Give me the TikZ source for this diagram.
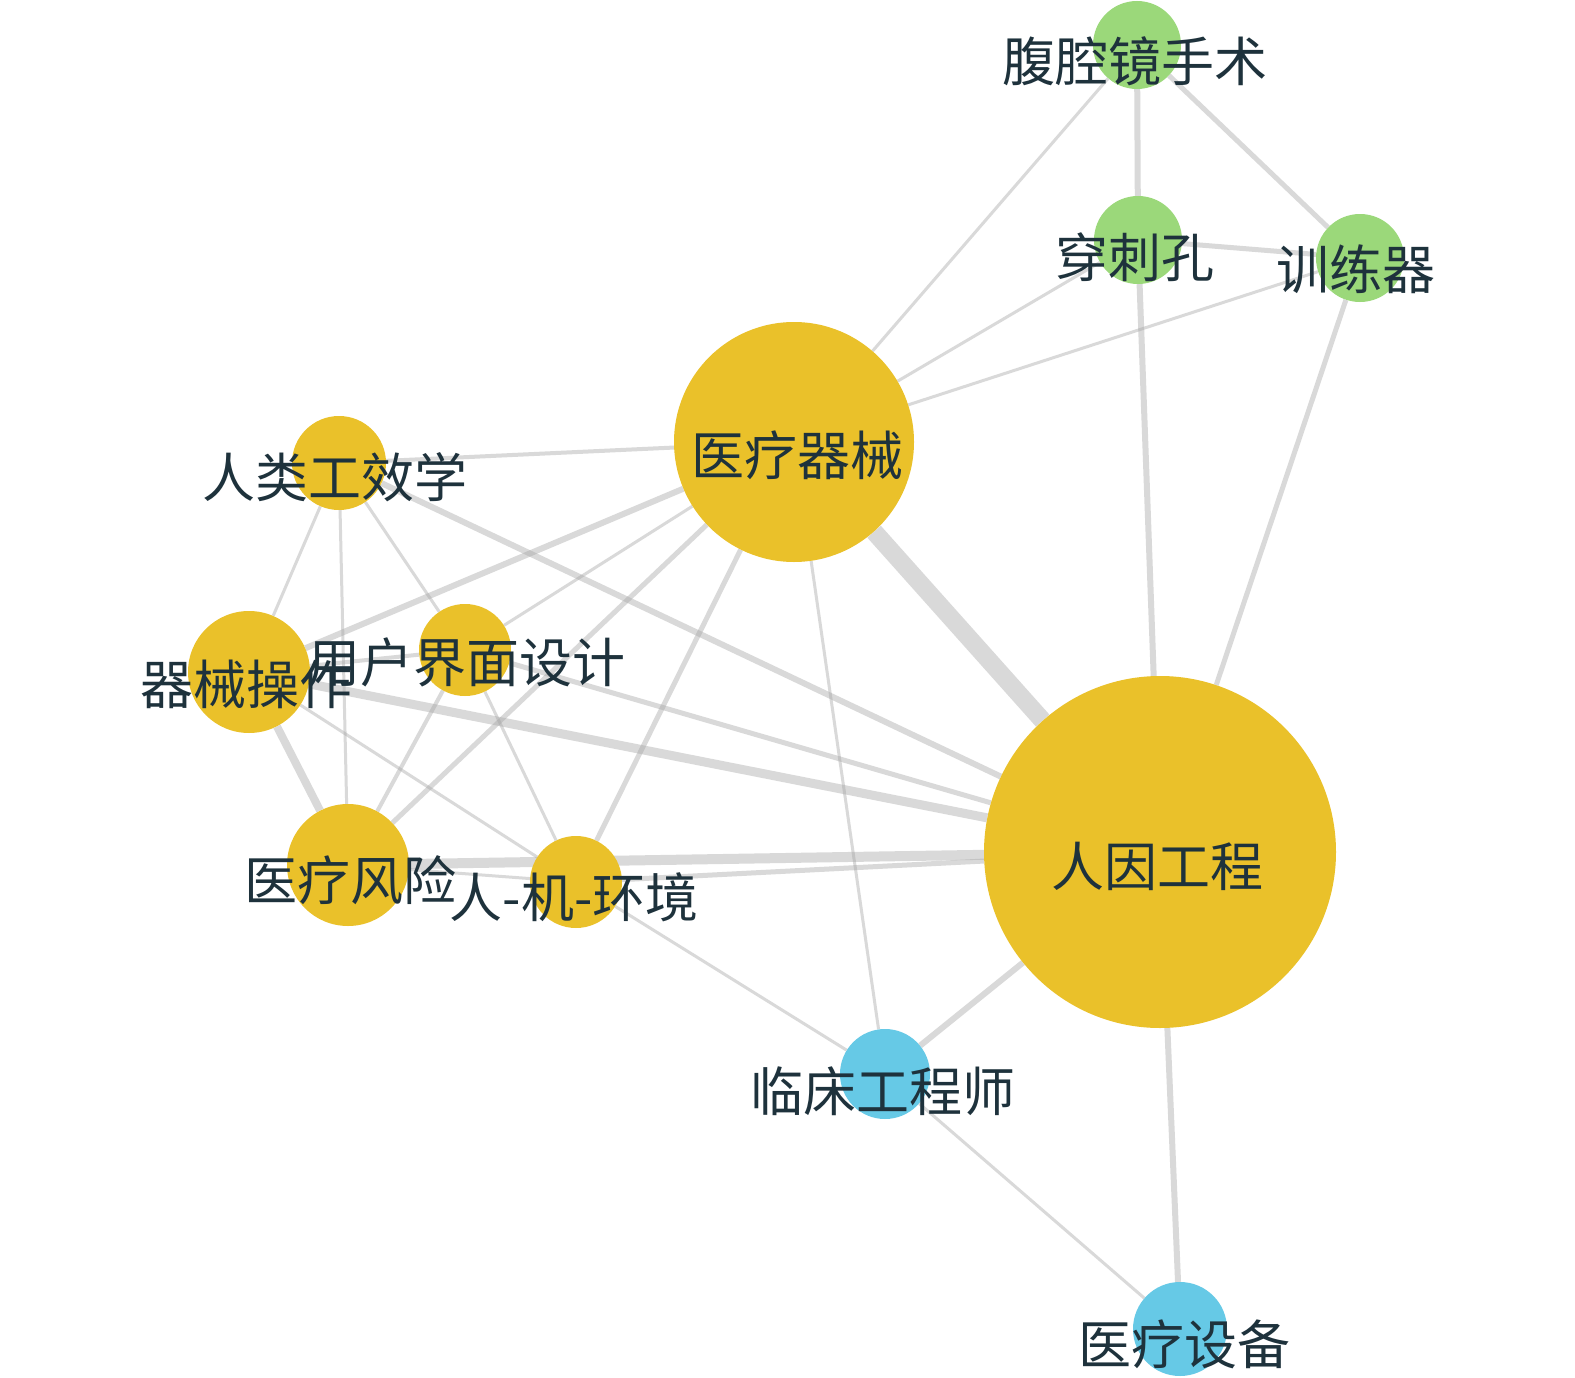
\documentclass[tikz,border=0pt]{standalone}
\usepackage{fontspec}
\newfontfamily\cjk{Noto Sans CJK SC}
\pgfdeclarelayer{bg}
\pgfsetlayers{bg,main}
\definecolor{yel}{RGB}{234,193,42}
\definecolor{grn}{RGB}{155,216,122}
\definecolor{blu}{RGB}{102,201,230}
\definecolor{txt}{RGB}{30,50,60}
\definecolor{edgec}{RGB}{165,165,165}
\begin{document}
\begin{tikzpicture}[x=1pt,y=-1pt,
  vtx/.style={circle,inner sep=0pt,draw=none,minimum size=#1},
  lbl/.style={anchor=base,inner sep=0pt,text=txt,font=\cjk\fontsize{53}{60}\selectfont},
  lnk/.style={draw=edgec,draw opacity=0.42,line width=#1},
  lnk/.default=3pt]
\useasboundingbox (0,0) rectangle (1575,1378);

% circles
\node[vtx=88pt,fill=grn]  (A) at (1137,45)  {};
\node[vtx=88pt,fill=grn]  (B) at (1138,240) {};
\node[vtx=88pt,fill=grn]  (C) at (1360,258) {};
\node[vtx=240pt,fill=yel] (D) at (794,442)  {};
\node[vtx=94pt,fill=yel]  (E) at (339,463)  {};
\node[vtx=122pt,fill=yel] (F) at (249,672)  {};
\node[vtx=92pt,fill=yel]  (G) at (465,650)  {};
\node[vtx=122pt,fill=yel] (H) at (348,865)  {};
\node[vtx=92pt,fill=yel]  (I) at (576,882)  {};
\node[vtx=352pt,fill=yel] (J) at (1160,852) {};
\node[vtx=90pt,fill=blu]  (K) at (885,1074) {};
\node[vtx=94pt,fill=blu]  (L) at (1180,1329) {};

% edges
\begin{pgfonlayer}{bg}
\fill[white] (0,0) rectangle (1575,1378);
\draw[lnk=6pt] (A) -- (B);
\draw[lnk=5pt] (A) -- (C);
\draw[lnk=3pt] (A) -- (D);
\draw[lnk=5pt] (B) -- (C);
\draw[lnk=3pt] (B) -- (D);
\draw[lnk=6pt] (B) -- (J);
\draw[lnk=3pt] (C) -- (D);
\draw[lnk=5pt] (C) -- (J);
\draw[lnk=18pt] (D) -- (J);
\draw[lnk=4pt] (D) -- (E);
\draw[lnk=6pt] (D) -- (F);
\draw[lnk=3pt] (D) -- (G);
\draw[lnk=5pt] (D) -- (H);
\draw[lnk=5pt] (D) -- (I);
\draw[lnk=3pt] (D) -- (K);
\draw[lnk=3pt] (E) -- (F);
\draw[lnk=3pt] (E) -- (H);
\draw[lnk=3pt] (E) -- (G);
\draw[lnk=6pt] (E) -- (J);
\draw[lnk=4pt] (F) -- (G);
\draw[lnk=9pt] (F) -- (J);
\draw[lnk=8pt] (F) -- (H);
\draw[lnk=3pt] (F) -- (I);
\draw[lnk=4pt] (G) -- (H);
\draw[lnk=3pt] (G) -- (I);
\draw[lnk=5pt] (G) -- (J);
\draw[lnk=10pt] (H) -- (J);
\draw[lnk=3pt] (H) -- (I);
\draw[lnk=5pt] (I) -- (J);
\draw[lnk=3pt] (I) -- (K);
\draw[lnk=6pt] (J) -- (K);
\draw[lnk=6pt] (J) -- (L);
\draw[lnk=3pt] (K) -- (L);
\end{pgfonlayer}

% labels
\node[lbl] (tA) at (1135,82)  {腹腔镜手术};
\node[lbl] (tB) at (1135,277) {穿刺孔};
\node[lbl] (tC) at (1356,289) {训练器};
\node[lbl] (tD) at (797,475)  {医疗器械};
\node[lbl] (tE) at (335,497)  {人类工效学};
\node[lbl] (tF) at (246,704)  {器械操作};
\node[lbl] (tG) at (466,682)  {用户界面设计};
\node[lbl] (tH) at (350,900)  {医疗风险};
\node[lbl] (tI) at (574,917)  {人-机-环境};
\node[lbl] (tJ) at (1157,886) {人因工程};
\node[lbl] (tK) at (883,1111) {临床工程师};
\node[lbl] (tL) at (1184,1364) {医疗设备};
\end{tikzpicture}
\end{document}
